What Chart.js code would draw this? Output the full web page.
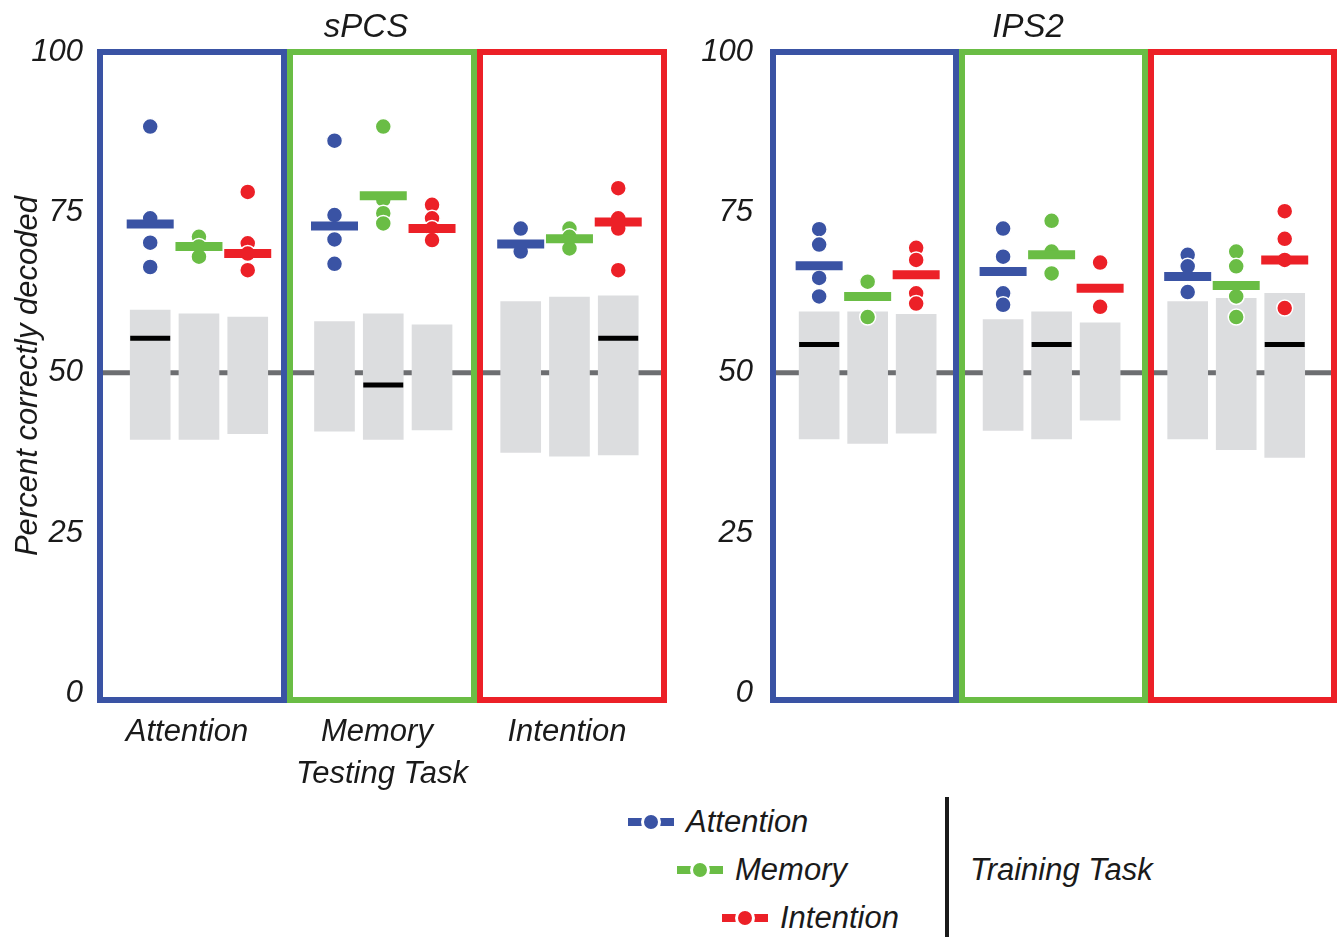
<!DOCTYPE html>
<html>
<head>
<meta charset="utf-8">
<script src="https://cdn.jsdelivr.net/npm/chart.js@4"></script>
<style>
  html, body { margin: 0; padding: 0; overflow: hidden; }
  body { background: #fff; width: 1344px; height: 937px; position: relative;
         font-family: 'Liberation Sans', Arial, sans-serif; font-style: italic; color: #1a1a1a; }
  .panel { position: absolute; top: 0; }
  #panelSpcs { left: 0; width: 732px; height: 800px; }
  #panelIps2 { left: 679px; width: 698px; height: 739px; }
  .key { position: absolute; display: flex; align-items: center; font-size: 31px; transform: translateY(-50%); white-space: nowrap; }
  .mark { position: relative; width: 46px; height: 20px; margin-right: 12px; }
  .mark::before { content: ''; position: absolute; left: 0; right: 0; top: 6px; height: 8px; background: var(--c); }
  .mark::after { content: ''; position: absolute; left: 13px; top: 0; width: 14px; height: 14px;
                 border: 3px solid #fff; border-radius: 50%; background: var(--c); }
  #divider { position: absolute; left: 945px; top: 797px; width: 4px; height: 140px; background: #1a1a1a; }
  #training { position: absolute; left: 970px; top: 870px; font-size: 31px; transform: translateY(-50%); white-space: nowrap; }
</style>
</head>
<body>
<div class="panel" id="panelSpcs"><canvas id="spcs" width="732" height="800" style="width:732px;height:800px"></canvas></div>
<div class="panel" id="panelIps2"><canvas id="ips2" width="698" height="739" style="width:698px;height:739px"></canvas></div>
<div id="legend"></div>
<div id="divider"></div>
<div id="training">Training Task</div>
<script>
const testingTasks = ['Attention', 'Memory', 'Intention'];
const trainingTasks = ['Attention', 'Memory', 'Intention'];
const taskColors = ['#3a53a4', '#6abd45', '#ec2027'];
const yTicks = [0, 25, 50, 75, 100];
const chanceLevel = 50;

// sPCS, indexed [testing task][training task]
const spcsSubjects = [
    [[88.4, 74.1, 70.3, 66.5], [71.2, 69.7, 68.1], [78.2, 70.2, 68.6, 66.0]],
    [[86.2, 74.6, 70.8, 67.0], [88.4, 77.0, 74.9, 73.3], [76.2, 74.1, 72.5, 70.7]],
    [[72.5, 68.9], [72.5, 71.2, 69.4], [78.8, 74.1, 72.5, 66.0]]
];
const spcsMeans = [[73.2, 69.7, 68.6], [72.9, 77.6, 72.5], [70.1, 70.9, 73.5]];
const spcsNullLow = [[39.6, 39.6, 40.5], [40.9, 39.6, 41.1], [37.6, 37.0, 37.2]];
const spcsNullHigh = [[59.8, 59.2, 58.7], [58.0, 59.2, 57.5], [61.1, 61.8, 62.0]];
const spcsNullMedian = [55.4, 48.1, 55.4];   // same-task decoding only

// IPS2
const ips2Subjects = [
    [[72.4, 70.0, 64.8, 61.9], [64.2, 58.7], [69.5, 67.6, 62.4, 60.8]],
    [[72.5, 68.1, 62.4, 60.6], [73.7, 68.9, 65.5], [67.2, 60.3]],
    [[68.4, 66.6, 62.6], [68.9, 66.6, 61.9, 58.7], [75.2, 70.9, 67.6, 60.1]]
];
const ips2Means = [[66.7, 61.9, 65.3], [65.8, 68.4, 63.2], [65.0, 63.6, 67.6]];
const ips2NullLow = [[39.7, 39.0, 40.6], [41.0, 39.7, 42.6], [39.7, 38.0, 36.8]];
const ips2NullHigh = [[59.5, 59.5, 59.1], [58.3, 59.5, 57.8], [61.1, 61.6, 62.4]];
const ips2NullMedian = [54.4, 54.4, 54.4];

Chart.defaults.font.family = "'Liberation Sans', Arial, sans-serif";
Chart.defaults.font.style = 'italic';
Chart.defaults.font.size = 31;
Chart.defaults.color = '#1a1a1a';

function slotX(slots, g, j) {
    return 3 * g + slots[g] + 0.77 * j;
}

function buildDatasets(subjects, means, lows, highs, medians, slots) {
    const bars = [];
    const medianPts = [];
    testingTasks.forEach((t, g) => {
        trainingTasks.forEach((r, j) => {
            bars.push({ x: slotX(slots, g, j), y: [lows[g][j], highs[g][j]] });
        });
        medianPts.push({ x: slotX(slots, g, g), y: medians[g] });
    });

    const datasets = [{
        type: 'bar',
        data: bars,
        backgroundColor: '#dcdddf',
        barThickness: 40,
        order: 3
    }, {
        type: 'scatter',
        data: medianPts,
        pointStyle: 'line',
        pointRadius: 20,
        pointBorderWidth: 5,
        pointBorderColor: '#000',
        order: 2
    }];

    trainingTasks.forEach((r, j) => {
        const dots = [];
        const avg = [];
        testingTasks.forEach((t, g) => {
            subjects[g][j].forEach(v => dots.push({ x: slotX(slots, g, j), y: v }));
            avg.push({ x: slotX(slots, g, j), y: means[g][j] });
        });
        datasets.push({
            type: 'scatter',
            label: r,
            data: dots,
            pointRadius: 8,
            pointBackgroundColor: taskColors[j],
            pointBorderColor: '#fff',
            pointBorderWidth: 1.5,
            order: 1
        });
        datasets.push({
            type: 'scatter',
            label: r + ' mean',
            data: avg,
            pointStyle: 'line',
            pointRadius: 23.5,
            pointBorderWidth: 9,
            pointBorderColor: taskColors[j],
            order: 0
        });
    });
    return datasets;
}

const framePlugin = {
    id: 'frames',
    beforeDatasetsDraw(chart) {
        const { ctx, chartArea, scales: { y } } = chart;
        const py = y.getPixelForValue(chanceLevel);
        ctx.save();
        ctx.strokeStyle = '#6d6e71';
        ctx.lineWidth = 5;
        ctx.beginPath();
        ctx.moveTo(chartArea.left, py);
        ctx.lineTo(chartArea.right, py);
        ctx.stroke();
        ctx.restore();
    },
    afterDatasetsDraw(chart) {
        const { ctx, chartArea, scales: { x } } = chart;
        ctx.save();
        ctx.lineWidth = 6;
        testingTasks.forEach((t, g) => {
            const x0 = x.getPixelForValue(3 * g);
            const x1 = x.getPixelForValue(3 * g + 3);
            ctx.strokeStyle = taskColors[g];
            ctx.strokeRect(x0 + 3, chartArea.top + 3, x1 - x0 - 6, chartArea.bottom - chartArea.top - 6);
        });
        ctx.restore();
    }
};

function makeChart(id, title, datasets, opts) {
    return new Chart(document.getElementById(id), {
        type: 'bar',
        data: { datasets },
        plugins: [framePlugin],
        options: {
            responsive: false,
            animation: false,
            events: [],
            layout: { padding: { left: 0, right: 0, top: 0, bottom: opts.bottomPad } },
            plugins: {
                legend: { display: false },
                tooltip: { enabled: false },
                title: {
                    display: true,
                    text: title,
                    font: { size: 33, style: 'italic', weight: 'normal' },
                    padding: { top: 8, bottom: 1.4 }
                }
            },
            scales: {
                x: {
                    type: 'linear',
                    min: 0,
                    max: 9,
                    offset: false,
                    grid: { display: false, drawTicks: false },
                    border: { display: false },
                    afterBuildTicks: scale => {
                        scale.ticks = testingTasks.map((t, g) => ({ value: 3 * g + 1.42 }));
                    },
                    afterFit: scale => { scale.height = opts.showX ? 97 : 0; },
                    ticks: {
                        display: opts.showX,
                        autoSkip: false,
                        maxRotation: 0,
                        padding: 11,
                        callback: (v, i) => testingTasks[i]
                    },
                    title: {
                        display: opts.showX,
                        text: 'Testing Task',
                        padding: { top: 0, bottom: 7 }
                    }
                },
                y: {
                    min: -1.5,
                    max: 100.5,
                    grid: { display: false, drawTicks: false },
                    border: { display: false },
                    afterBuildTicks: scale => {
                        scale.ticks = yTicks.map(v => ({ value: v }));
                    },
                    afterFit: scale => { scale.width = opts.yWidth; },
                    ticks: { padding: opts.tickPad },
                    title: {
                        display: opts.showYTitle,
                        text: 'Percent correctly decoded',
                        padding: { top: 10, bottom: 0 }
                    }
                },
                // empty right-hand axis, only reserves space so the title stays centred on the canvas
                spacer: {
                    type: 'linear',
                    position: 'right',
                    display: false,
                    afterFit: scale => { scale.width = opts.rightGap; }
                }
            }
        }
    });
}

makeChart('spcs', 'sPCS',
    buildDatasets(spcsSubjects, spcsMeans, spcsNullLow, spcsNullHigh, spcsNullMedian, [0.84, 0.75, 0.69]),
    { bottomPad: 0, rightGap: 65, showX: true, yWidth: 97, tickPad: 14, showYTitle: true });

makeChart('ips2', 'IPS2',
    buildDatasets(ips2Subjects, ips2Means, ips2NullLow, ips2NullHigh, ips2NullMedian, [0.78, 0.70, 0.63]),
    { bottomPad: 36, rightGap: 40, showX: false, yWidth: 91, tickPad: 17, showYTitle: false });

// training-task key below the panels
const keySpots = [[628, 822], [677, 870], [722, 918]];
const legendEl = document.getElementById('legend');
trainingTasks.forEach((r, j) => {
    const item = document.createElement('div');
    item.className = 'key';
    item.style.left = keySpots[j][0] + 'px';
    item.style.top = keySpots[j][1] + 'px';
    item.innerHTML = '<span class="mark" style="--c:' + taskColors[j] + '"></span><span>' + r + '</span>';
    legendEl.appendChild(item);
});
</script>
</body>
</html>
